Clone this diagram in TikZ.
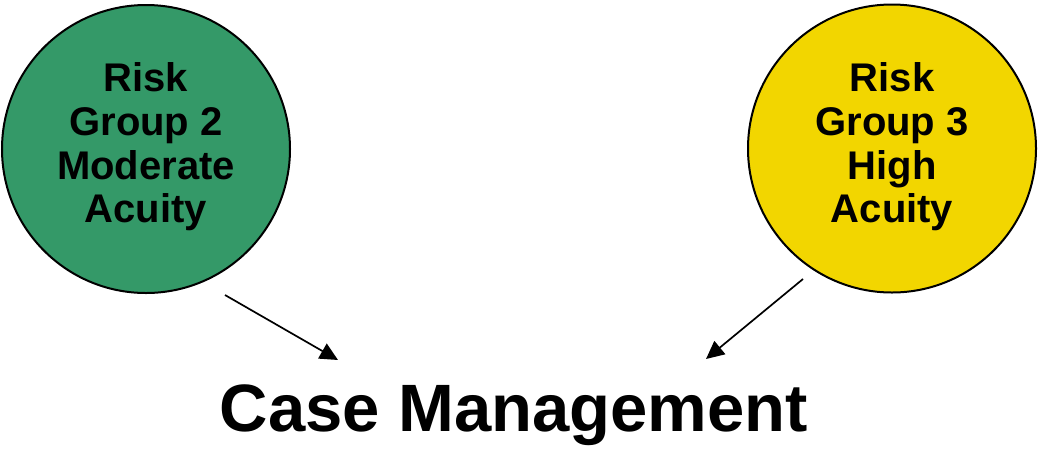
\documentclass[tikz,border=0pt]{standalone}
\usepackage{fontspec}
\setmainfont{Liberation Sans}
\usetikzlibrary{arrows.meta}
\definecolor{riskgreen}{RGB}{52,153,104}
\definecolor{riskyellow}{RGB}{242,214,0}
\tikzset{
  riskcircle/.style={circle, draw=black, line width=2pt, minimum size=288pt, inner sep=0pt},
  risktext/.style={align=center, inner sep=0pt, font=\bfseries\fontsize{40}{43.7}\selectfont},
  flow/.style={line width=1.7pt, -{Triangle[length=18pt,width=17pt]}},
}
\begin{document}
\begin{tikzpicture}[x=1pt, y=-1pt]
  \useasboundingbox (0,0) rectangle (1038,448);
  % the two risk groups
  \node[riskcircle, fill=riskgreen] (g2) at (146,149) {};
  \node[risktext] (g2text) at (146,147) {Risk\\Group 2\\Moderate\\Acuity};
  \node[riskcircle, fill=riskyellow] (g3) at (892,148.5) {};
  \node[risktext] (g3text) at (892,147) {Risk\\Group 3\\High\\Acuity};
  % target
  \node[anchor=base, inner sep=0pt, font=\bfseries\fontsize{67}{72}\selectfont] (cm) at (514,431) {Case Management};
  % connectors
  \coordinate (g2tail) at (225,295);
  \coordinate (g2tip) at (338,360);
  \coordinate (g3tail) at (803,279);
  \coordinate (g3tip) at (706,359);
  \draw[flow] (g2tail) -- (g2tip);
  \draw[flow] (g3tail) -- (g3tip);
\end{tikzpicture}
\end{document}
